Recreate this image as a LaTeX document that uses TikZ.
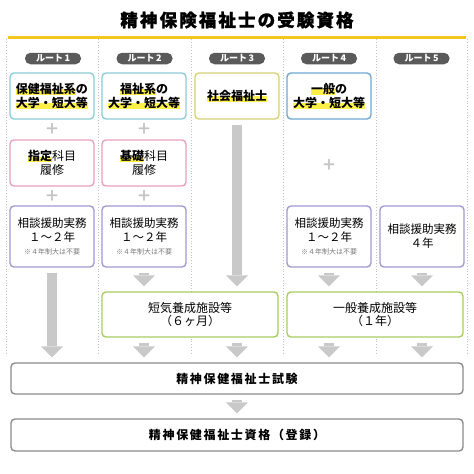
\documentclass[tikz,border=0pt]{standalone}
\usepackage{fontspec}
\setmainfont{Noto Sans CJK JP}
\usetikzlibrary{arrows.meta}
\definecolor{hly}{HTML}{FFF04A}
\definecolor{titleline}{HTML}{F2C81E}
\definecolor{sepgray}{HTML}{BFC3CC}
\definecolor{routegray}{HTML}{5A5A5A}
\definecolor{plusgray}{HTML}{C4C4C4}
\definecolor{arrowgray}{HTML}{C9C9C9}
\definecolor{tealc}{HTML}{8DCCD6}
\definecolor{yelc}{HTML}{D8D275}
\definecolor{bluec}{HTML}{6FA8D6}
\definecolor{pinkc}{HTML}{E9A0BF}
\definecolor{purc}{HTML}{A29BD0}
\definecolor{grnc}{HTML}{A8CE62}
\definecolor{boxgray}{HTML}{8C8C8C}
\definecolor{notegray}{HTML}{7A7A7A}
\newcommand\hlmark[1]{\setbox0\hbox{#1}\rlap{\textcolor{hly}{\rule[-0.12em]{\wd0}{0.45em}}}\box0}
\tikzset{
  box/.style={draw, line width=1.4pt, rounded corners=4pt, fill=white, minimum width=84pt, minimum height=46pt, align=center, inner sep=1pt},
  topbox/.style={box, font=\bfseries\fontsize{12}{14}\selectfont},
  pinkbox/.style={box, draw=pinkc, font=\fontsize{12}{14}\selectfont},
  purbox/.style={box, draw=purc, minimum height=61pt, font=\fontsize{11.5}{14}\selectfont},
  grnbox/.style={box, draw=grnc, minimum width=176pt, minimum height=45pt, font=\fontsize{12}{13}\selectfont},
  graybox/.style={box, draw=boxgray, minimum width=452pt, minimum height=31pt, font=\bfseries\fontsize{12}{14}\selectfont\addfontfeatures{LetterSpace=14}},
  route/.style={fill=routegray, text=white, rounded corners=5.5pt, minimum width=56pt, minimum height=11.5pt, inner sep=0pt, font=\bfseries\fontsize{9}{9}\selectfont},
  plus/.style={text=plusgray, font=\bfseries\fontsize{15}{15}\selectfont, inner sep=0pt},
  garrow/.style={draw=arrowgray, line width=10pt, -{Triangle[width=22pt,length=11pt,line width=0pt]}, shorten <=5pt, shorten >=5pt},
}
\begin{document}
\begin{tikzpicture}[x=1pt,y=-1pt]
\useasboundingbox (0,0) rectangle (474,474);
\fill[white] (0,0) rectangle (474,474);
% separators
\foreach \sx in {6,98,191,283,376,467}
  \draw[sepgray, dotted, line width=0.8pt] (\sx,39) -- (\sx,355);
% title
\node[font=\bfseries\fontsize{17.5}{18}\selectfont\addfontfeatures{LetterSpace=12,FakeBold=1.2}] (title) at (237,20) {精神保険福祉士の受験資格};
\draw[titleline, line width=3pt] (8,37) -- (466,37);
% routes
\node[route] (r1) at (53,58.5) {ルート\,1};
\node[route] (r2) at (144.5,58.5) {ルート\,2};
\node[route] (r3) at (237,58.5) {ルート\,3};
\node[route] (r4) at (329,58.5) {ルート\,4};
\node[route] (r5) at (421.5,58.5) {ルート\,5};
% top boxes
\node[topbox, draw=tealc] (t1) at (52,96) {\hlmark{保健福祉系}の\\\hlmark{大学・短大等}};
\node[topbox, draw=tealc] (t2) at (144,96) {\hlmark{福祉系}の\\\hlmark{大学・短大等}};
\node[topbox, draw=yelc] (t3) at (237,96) {\hlmark{社会福祉士}};
\node[topbox, draw=bluec] (t4) at (329,96) {\hlmark{一般}の\\\hlmark{大学・短大等}};
% pluses
\node[plus] (pl1a) at (52,129.5) {＋};
\node[plus] (pl2a) at (144,129.5) {＋};
\node[plus] (pl1b) at (52,196) {＋};
\node[plus] (pl2b) at (144,196) {＋};
\node[plus] (pl4) at (329,165) {＋};
% pink boxes
\node[pinkbox] (k1) at (52,163) {{\bfseries\hlmark{指定}}科目\\履修};
\node[pinkbox] (k2) at (144,163) {{\bfseries\hlmark{基礎}}科目\\履修};
% purple boxes
\node[purbox] (p1) at (52,236.5) {相談援助実務\\１～２年\\[-1pt]{\fontsize{7}{9}\selectfont\color{notegray}※４年制大は不要}};
\node[purbox] (p2) at (144,236.5) {相談援助実務\\１～２年\\[-1pt]{\fontsize{7}{9}\selectfont\color{notegray}※４年制大は不要}};
\node[purbox] (p4) at (329,236.5) {相談援助実務\\１～２年\\[-1pt]{\fontsize{7}{9}\selectfont\color{notegray}※４年制大は不要}};
\node[purbox] (p5) at (422,236.5) {相談援助実務\\４年};
% green boxes
\node[grnbox] (g23) at (190,314.5) {短気養成施設等\\（６ヶ月）};
\node[grnbox] (g45) at (375,314.5) {一般養成施設等\\（１年）};
% bottom boxes
\node[graybox] (exam) at (237,378.5) {精神保健福祉士試験};
\node[graybox, minimum height=32pt] (reg) at (237,435) {精神保健福祉士資格（登録）};
% arrows
\draw[garrow] (p1.south) -- (p1.south |- exam.north);
\draw[garrow] (t3.south) -- (t3.south |- g23.north);
\draw[garrow] (p2.south) -- (p2.south |- g23.north);
\draw[garrow] (p4.south) -- (p4.south |- g45.north);
\draw[garrow] (p5.south) -- (p5.south |- g45.north);
\draw[garrow] (p2.south |- g23.south) -- (p2.south |- exam.north);
\draw[garrow] (t3.south |- g23.south) -- (t3.south |- exam.north);
\draw[garrow] (p4.south |- g45.south) -- (p4.south |- exam.north);
\draw[garrow] (p5.south |- g45.south) -- (p5.south |- exam.north);
\draw[garrow] (exam.south) -- (reg.north);
\end{tikzpicture}
\end{document}
